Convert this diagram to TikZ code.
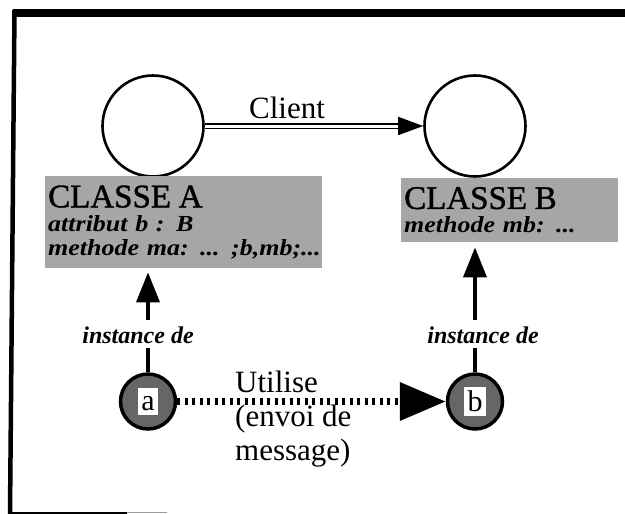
\documentclass[tikz,border=0pt]{standalone}
\usepackage{fontspec}
\setmainfont{Liberation Serif}
\newfontfamily\boxfont{Liberation Serif}[FakeStretch=1.13]
\newfontfamily\titlefont{Liberation Serif}[FakeBold=1.2]
\usetikzlibrary{arrows.meta}
\newcommand{\classtitle}[1]{{\titlefont\mdseries\upshape\fontsize{33}{33}\selectfont #1}}
\newcommand{\objletter}[1]{{\setlength{\fboxsep}{3.5pt}\colorbox{white}{\rule[-1pt]{0pt}{20pt}#1}}}
\tikzset{
  bigcircle/.style={circle, draw, line width=2.6pt, minimum size=101pt, inner sep=0pt},
  objcircle/.style={circle, draw, line width=3.5pt, fill=black!60, minimum size=55pt, inner sep=0pt, font=\fontsize{30}{30}\selectfont},
  classbox/.style={rectangle, fill=black!35, inner xsep=3pt, inner ysep=0pt, align=left, anchor=north west, font=\boxfont\bfseries\itshape\fontsize{23}{24}\selectfont},
  biglabel/.style={font=\fontsize{31}{34}\selectfont, inner sep=0pt},
  instlabel/.style={font=\bfseries\itshape\fontsize{24}{24}\selectfont, inner sep=0pt},
  thickline/.style={line width=3.8pt},
  instarrow/.style={line width=3.8pt, -{Triangle[length=30pt,width=23pt]}},
  clientarrow/.style={line width=1.8pt, double, double distance=3pt, -{Triangle[length=25pt,width=18pt]}},
  msgarrow/.style={line width=7pt, dash pattern=on 3pt off 4.5pt, -{Triangle[length=46pt,width=37pt]}},
}
\begin{document}
\begin{tikzpicture}[x=1pt,y=-1pt]
\useasboundingbox (0,0) rectangle (625,514);
% frame
\draw[line width=8pt] (13,12.5) -- (625,12.5);
\draw[line width=4.5pt] (14.5,10) -- (10,514);
\draw[line width=2pt] (9,512.5) -- (127,512.5);
\draw[line width=1.5pt, black!40] (127,512.5) -- (167,512.5);
% classes
\node[bigcircle] (A) at (153,126) {};
\node[bigcircle] (B) at (475,126) {};
\node[classbox, text width=271pt, minimum height=92pt] (boxA) at (45,176)
  {\classtitle{CLASSE A}\\attribut b : B\\\mbox{methode ma: ... ;b,mb;...}};
\node[classbox, text width=211pt, minimum height=64pt] (boxB) at (401,178)
  {\classtitle{CLASSE B}\\methode mb: ...};
\node[biglabel, anchor=base] (client) at (287,118) {Client};
\draw[clientarrow] (A) -- (B);
% objects
\node[objcircle] (a) at (148,401.5) {\objletter{a}};
\node[objcircle] (b) at (475,401.5) {\objletter{b}};
\node[instlabel, anchor=base] (instA) at (138,343) {instance de};
\node[instlabel, anchor=base] (instB) at (483,343) {instance de};
\draw[thickline, shorten >=5pt] (a) -- (a |- instA.south);
\draw[instarrow, shorten <=6pt, shorten >=4pt] (a |- instA.north) -- (a |- boxA.south);
\draw[thickline, shorten >=5pt] (b) -- (b |- instB.south);
\draw[instarrow, shorten <=6pt, shorten >=5pt] (b |- instB.north) -- (b |- boxB.south);
\draw[msgarrow] (a) -- (b);
\node[biglabel, anchor=north west, align=left] (msg) at (235,371) {Utilise\\(envoi de\\message)};
\end{tikzpicture}
\end{document}
